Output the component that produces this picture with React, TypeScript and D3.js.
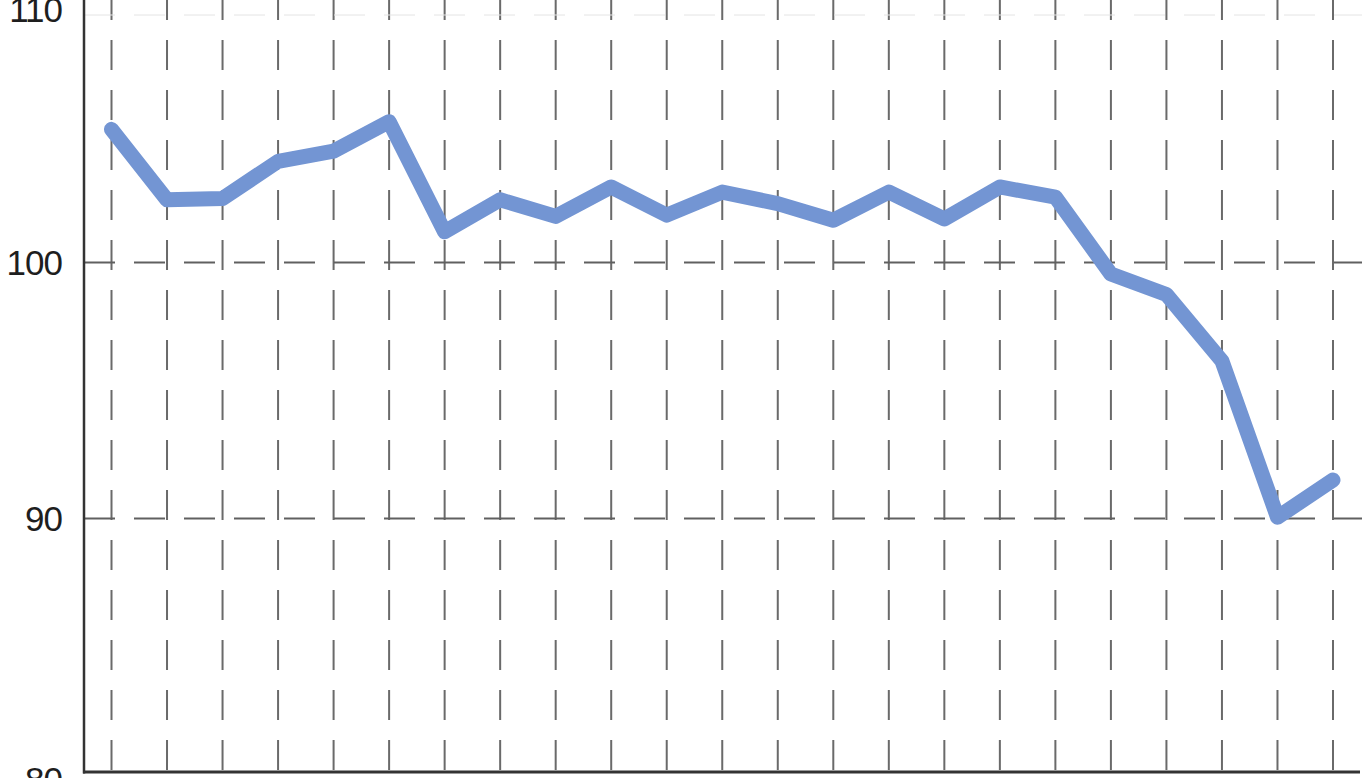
import React from "react";
import * as d3 from "d3";

const categories: string[] = Array.from({ length: 23 }, (_, i) => `P${i + 1}`);
const values: number[] = [
  105.2, 102.45, 102.5, 103.95, 104.35, 105.5, 101.2, 102.45, 101.8, 102.95,
  101.85, 102.75, 102.3, 101.65, 102.75, 101.7, 102.95, 102.55, 99.55, 98.75,
  96.15, 90.05, 91.5,
];
const yTicks: number[] = [80, 90, 100, 110];

const W = 1370;
const H = 778;

export default function App() {
  const x = d3.scalePoint<string>().domain(categories).range([111.5, 1333]);
  const y = d3.scaleLinear().domain([80, 110]).range([774.5, 6.5]);
  const axisX = 84;
  const bottomY = 772;
  const topLineY = 15;

  const line = d3
    .line<number>()
    .x((_, i) => x(categories[i]) as number)
    .y((d) => y(d));

  return (
    <svg
      width={W}
      height={H}
      style={{ position: "absolute", left: 0, top: 0, background: "#fff" }}
    >
      {categories.map((c) => (
        <line
          key={c}
          x1={x(c)}
          x2={x(c)}
          y1={-10}
          y2={bottomY}
          stroke="#6a6a6a"
          strokeWidth={2}
          strokeDasharray="30,20"
        />
      ))}
      {yTicks
        .filter((t) => t !== 80)
        .map((t) => (
          <line
            key={t}
            x1={axisX}
            x2={1362}
            y1={t === 110 ? topLineY : y(t)}
            y2={t === 110 ? topLineY : y(t)}
            stroke={t === 110 ? "#e4e4e4" : "#606060"}
            strokeWidth={t === 110 ? 1 : 2}
            strokeDasharray="31,19"
          />
        ))}
      <line x1={axisX} x2={axisX} y1={0} y2={bottomY + 1.5} stroke="#333" strokeWidth={2.5} />
      <line x1={axisX - 1} x2={1360} y1={bottomY} y2={bottomY} stroke="#333" strokeWidth={3} />
      {yTicks.map((t) => (
        <text
          key={t}
          x={62}
          y={t === 110 ? topLineY : y(t)}
          dy={t === 80 ? "0.5em" : t === 110 ? "0.2em" : "0.36em"}
          textAnchor="end"
          fontFamily="Liberation Sans, Arial, sans-serif"
          fontSize={35}
          fill="#1e1e1e"
          letterSpacing={-1}
        >
          {t}
        </text>
      ))}
      <path
        d={line(values) || ""}
        fill="none"
        stroke="#7395d3"
        strokeWidth={15}
        strokeLinejoin="round"
        strokeLinecap="round"
      />
    </svg>
  );
}
